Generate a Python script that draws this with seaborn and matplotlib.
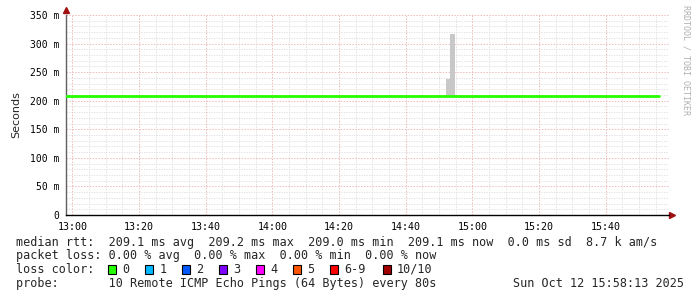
import matplotlib
matplotlib.use("Agg")
import matplotlib.pyplot as plt
from matplotlib.patches import Rectangle
import seaborn as sns
import numpy as np
import pandas as pd

# ---------------- data ----------------
# time in minutes relative to 13:00
median_time = [-1.9, 176.0]
median_rtt = [209.1, 209.1]            # ms
smoke_start = [112.0, 113.3]           # minutes
smoke_width = [1.3, 1.4]
smoke_low = [209.1, 209.1]
smoke_high = [238.0, 317.0]
xtick_pos = [0, 20, 40, 60, 80, 100, 120, 140, 160]
xtick_labels = ["13:00", "13:20", "13:40", "14:00", "14:20", "14:40", "15:00", "15:20", "15:40"]
ytick_pos = [0, 50, 100, 150, 200, 250, 300, 350]
ytick_labels = ["0", "50 m", "100 m", "150 m", "200 m", "250 m", "300 m", "350 m"]
rtt_stats = ["209.1 ms avg", "209.2 ms max", "209.0 ms min", "209.1 ms now", "0.0 ms sd", "8.7 k am/s"]
loss_stats = ["0.00 % avg", "0.00 % max", "0.00 % min", "0.00 % now"]
loss_labels = ["0", "1", "2", "3", "4", "5", "6-9", "10/10"]
loss_colors = ["#26ff00", "#00b8ff", "#0059ff", "#7e00ff", "#ff00ff", "#ff5500", "#ff0000", "#a10000"]
probe_text = "10 Remote ICMP Echo Pings (64 Bytes) every 80s"
date_text = "Sun Oct 12 15:58:13 2025"

# ---------------- figure ----------------
sns.set_theme(style="white")
plt.rcParams['font.family'] = ['DejaVu Sans Mono', 'DejaVu Sans']
W, H = 697, 297
fig = plt.figure(figsize=(W / 100, H / 100), dpi=100)
fig.patch.set_facecolor("white")

L, R, T, B = 66, 669, 15, 215
ax = fig.add_axes([L / W, 1 - B / H, (R - L) / W, (B - T) / H])
ax.set_facecolor("white")

xmin, xmax = -1.95, 179.0
ax.set_xlim(xmin, xmax)
ax.set_ylim(0, 350)

# grid
minor_c = "#dcdcdc"
major_c = "#ecbcbc"
for xv in np.arange(0, 180, 5):
    if xv % 20 != 0:
        ax.axvline(xv, color=minor_c, lw=0.6, ls=(0, (1.5, 1.5)), zorder=0)
for yv in np.arange(10, 351, 10):
    if yv % 50 != 0:
        ax.axhline(yv, color=minor_c, lw=0.6, ls=(0, (1.5, 1.5)), zorder=0)
for xv in xtick_pos:
    ax.axvline(xv, color=major_c, lw=0.7, ls=(0, (1.5, 1.5)), zorder=0.5)
for yv in ytick_pos[1:]:
    ax.axhline(yv, color=major_c, lw=0.7, ls=(0, (1.5, 1.5)), zorder=0.5)

# smoke
ax.bar(smoke_start, np.array(smoke_high) - np.array(smoke_low), width=smoke_width,
       bottom=smoke_low, align="edge", color="#c8c8c8", linewidth=0, zorder=2)

# median line
df = pd.DataFrame({"t": median_time, "rtt": median_rtt})
sns.lineplot(data=df, x="t", y="rtt", ax=ax, color="#26ff00", lw=2, zorder=3)

ax.set_xticks(xtick_pos)
ax.set_xticklabels(xtick_labels, fontsize=7.2)
ax.set_yticks(ytick_pos)
ax.set_yticklabels(ytick_labels, fontsize=7.0)
ax.tick_params(axis="both", length=3, width=0.8, color="#606060", pad=2, labelcolor="black")
ax.set_xlabel("")
ax.set_ylabel("Seconds", fontsize=8, family="DejaVu Sans", labelpad=6)

for s in ["top", "right"]:
    ax.spines[s].set_visible(False)
ax.spines["left"].set_color("#606060")
ax.spines["left"].set_linewidth(1)
ax.spines["bottom"].set_color("black")
ax.spines["bottom"].set_linewidth(1)

# arrows
ax.plot([0], [1.025], marker="^", color="#a01010", ms=4, transform=ax.transAxes, clip_on=False)
ax.plot([1.005], [0], marker=">", color="#a01010", ms=4, transform=ax.transAxes, clip_on=False)

# side text
fig.text(686 / W, 1 - 5 / H, "RRDTOOL / TOBI OETIKER", rotation=270, fontsize=6.0,
         color="#b0b0b0", ha="center", va="top")

# legend rows
fs = 8.5
x0 = 16 / W
def fy(y):
    return 1 - y / H

fig.text(x0, fy(246), "median rtt:  " + "  ".join(rtt_stats), fontsize=fs, va="baseline")
fig.text(x0, fy(259.5), "packet loss: " + "  ".join(loss_stats), fontsize=fs, va="baseline")
fig.text(x0, fy(273), "loss color:", fontsize=fs, va="baseline")
box_x = [108, 145, 182, 219, 256, 293, 330, 382.5]
for bx, lab, col in zip(box_x, loss_labels, loss_colors):
    fig.patches.append(Rectangle((bx / W, fy(273.5)), 8 / W, 8.5 / H, transform=fig.transFigure,
                                 facecolor=col, edgecolor="black", lw=0.8))
    fig.text((bx + 14.5) / W, fy(273), lab, fontsize=fs, va="baseline")
fig.text(x0, fy(287), "probe:       " + probe_text, fontsize=fs, va="baseline")
fig.text(513 / W, fy(287), date_text, fontsize=fs, va="baseline")

fig.savefig("out.png", dpi=100, facecolor="white")
